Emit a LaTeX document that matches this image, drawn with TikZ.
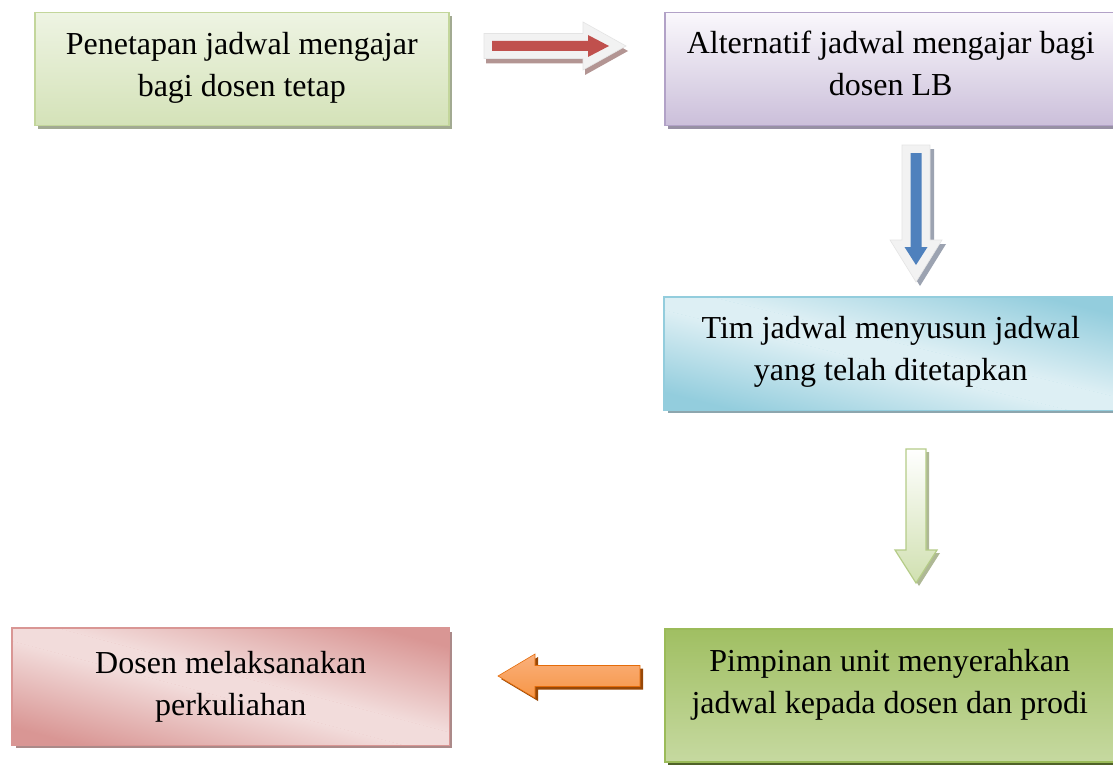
\documentclass[tikz,border=0pt]{standalone}
\usepackage{fontspec}
\setmainfont{Liberation Serif}
\usetikzlibrary{shadows,calc}
\definecolor{gAtop}{HTML}{EEF4E3}
\definecolor{gAbot}{HTML}{D4E2B8}
\definecolor{gAbrd}{HTML}{C3D69B}
\definecolor{gAshd}{HTML}{A2AA92}
\definecolor{pBtop}{HTML}{FAF8FC}
\definecolor{pBbot}{HTML}{CBBFDA}
\definecolor{pBbrd}{HTML}{B2A2C7}
\definecolor{pBshd}{HTML}{9790A5}
\definecolor{bCdark}{HTML}{93CDDD}
\definecolor{bClight}{HTML}{DDEFF4}
\definecolor{bCshd}{HTML}{8DA6AE}
\definecolor{gDtop}{HTML}{A0BF62}
\definecolor{gDbot}{HTML}{C6D9A0}
\definecolor{gDbrd}{HTML}{9BBB59}
\definecolor{gDshd}{HTML}{4F6228}
\definecolor{rEdark}{HTML}{D99694}
\definecolor{rElight}{HTML}{F2DCDB}
\definecolor{rEshd}{HTML}{AB8A89}
\definecolor{arOut}{HTML}{F2F2F2}
\definecolor{arOutBrd}{HTML}{E4E4E4}
\definecolor{arOneShd}{HTML}{B39593}
\definecolor{arOneIn}{HTML}{C0504D}
\definecolor{arTwoShd}{HTML}{9CA3B1}
\definecolor{arTwoIn}{HTML}{4F81BD}
\definecolor{arThrBrd}{HTML}{B5CC88}
\definecolor{arThrBot}{HTML}{D0E0B0}
\definecolor{arThrShd}{HTML}{AEB895}
\definecolor{arFouFill}{HTML}{F79646}
\definecolor{arFouTop}{HTML}{FAB07C}
\definecolor{arFouBrd}{HTML}{E46C0A}
\definecolor{arFouShd}{HTML}{984807}
\tikzset{
  boxnode/.style={rectangle, line width=1.5pt, inner sep=0pt, anchor=north west},
  shd/.style={drop shadow={shadow xshift=3.5pt, shadow yshift=-3.5pt, fill=#1, opacity=1}},
  lbl/.style={align=center, inner sep=0pt, font=\fontsize{32}{42}\selectfont},
}
% diagonal band fill: #1 node, #2 angle, #3 half extent, #4 dark, #5 light
\newcommand\diagband[5]{%
  \begin{scope}
    \clip (#1.north west) rectangle (#1.south east);
    \fill[#4] (#1.north west) rectangle (#1.south east);
    \begin{scope}[transform canvas={shift={(#1.center)}, rotate=#2}]
      \shade[left color=#4, right color=#5] (-#3,-300) rectangle (-12,300);
      \fill[#5] (-12.2,-300) rectangle (12.2,300);
      \shade[left color=#5, right color=#4] (12,-300) rectangle (#3,300);
    \end{scope}
  \end{scope}
  \draw[line width=1.5pt, #4] (#1.north west) rectangle (#1.south east);
}
\begin{document}
\begin{tikzpicture}[x=1pt,y=-1pt]
\useasboundingbox (0,0) rectangle (1113,765);
\clip (0,0) rectangle (1113,765);
\fill[white] (0,0) rectangle (1113,765);

% boxes
\node[boxnode, minimum width=414pt, minimum height=113pt, draw=gAbrd,
      top color=gAtop, bottom color=gAbot, shd=gAshd] (b1) at (34,12) {};
\node[boxnode, minimum width=452pt, minimum height=113pt, draw=pBbrd,
      top color=pBtop, bottom color=pBbot, shd=pBshd] (b2) at (664,12) {};
\node[boxnode, minimum width=452pt, minimum height=112pt, fill=bClight,
      shd=bCshd] (b3) at (664,297) {};
\diagband{b3}{76.1}{92}{bCdark}{bClight}
\node[boxnode, minimum width=452pt, minimum height=133pt, draw=gDbrd,
      top color=gDtop, bottom color=gDbot, shd=gDshd] (b4) at (664,628) {};
\node[boxnode, minimum width=436pt, minimum height=116pt, fill=rElight,
      shd=rEshd] (b5) at (12,628) {};
\diagband{b5}{75.1}{95}{rEdark}{rElight}

% texts
\node[lbl] (t1) at ($(b1.north)+(0,55)$) {\strut Penetapan jadwal mengajar\\\strut bagi dosen tetap};
\node[lbl] (t2) at ($(b2.north)+(0,54)$) {\strut Alternatif jadwal mengajar bagi\\\strut dosen LB};
\node[lbl] (t3) at ($(b3.north)+(0,54)$) {\strut Tim jadwal menyusun jadwal\\\strut yang telah ditetapkan};
\node[lbl] (t4) at ($(b4.north)+(-1,56)$) {\strut Pimpinan unit menyerahkan\\\strut jadwal kepada dosen dan prodi};
\node[lbl] (t5) at ($(b5.north)+(0,58)$) {\strut Dosen melaksanakan\\\strut perkuliahan};

% arrow 1 (right, red)
\fill[arOneShd] (486,38.5) -- (585,38.5) -- (585,27) -- (628,51) -- (585,75) -- (585,63.5) -- (486,63.5) -- cycle;
\filldraw[fill=arOut, draw=arOutBrd, line width=0.6pt] (484,33.5) -- (583,33.5) -- (583,22) -- (626,46) -- (583,70) -- (583,58.5) -- (484,58.5) -- cycle;
\fill[arOneIn] (492,41) -- (588,41) -- (588,35) -- (609,46) -- (588,57) -- (588,51) -- (492,51) -- cycle;

% arrow 2 (down, blue)
\fill[arTwoShd] (906,149) -- (934,149) -- (934,244) -- (946,244) -- (920,286) -- (894,244) -- (906,244) -- cycle;
\filldraw[fill=arOut, draw=arOutBrd, line width=0.6pt] (902,145) -- (930,145) -- (930,240) -- (942,240) -- (916,282) -- (890,240) -- (902,240) -- cycle;
\fill[arTwoIn] (910.5,153) -- (921.5,153) -- (921.5,247) -- (927.5,247) -- (916,265) -- (904.5,247) -- (910.5,247) -- cycle;

% arrow 3 (down, light green)
\fill[arThrShd] (909,452) -- (929,452) -- (929,553) -- (940,553) -- (919,586) -- (898,553) -- (909,553) -- cycle;
\draw[arThrBrd, line width=1.2pt, top color=white, bottom color=arThrBot] (906,449) -- (926,449) -- (926,550) -- (937,550) -- (916,583) -- (895,550) -- (906,550) -- cycle;

% arrow 4 (left, orange)
\fill[arFouShd] (643,668.5) -- (538,668.5) -- (538,657) -- (501,679) -- (538,701) -- (538,689.5) -- (643,689.5) -- cycle;
\draw[arFouBrd, line width=0.6pt, top color=arFouTop, bottom color=arFouFill] (640,665.5) -- (535,665.5) -- (535,654) -- (498,676) -- (535,698) -- (535,686.5) -- (640,686.5) -- cycle;
\end{tikzpicture}
\end{document}
